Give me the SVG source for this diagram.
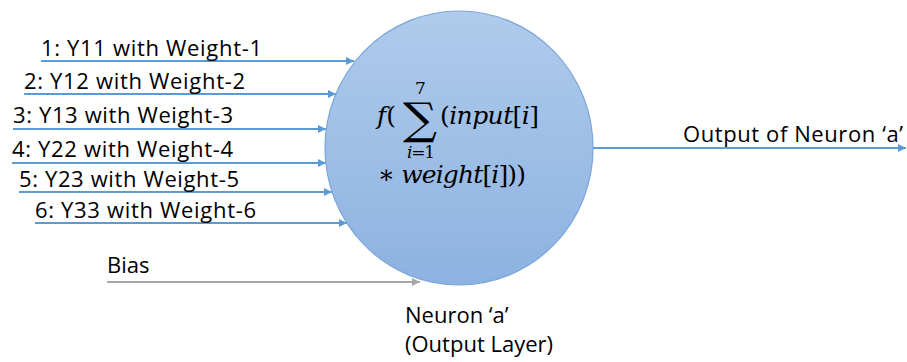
<svg xmlns="http://www.w3.org/2000/svg" width="907" height="362" viewBox="0 0 907 362">
  <defs>
    <linearGradient id="gFill" x1="0" y1="0" x2="0" y2="1">
      <stop offset="0" stop-color="#b0cbeb"/>
      <stop offset="1" stop-color="#8db2e1"/>
    </linearGradient>
    <marker id="arrB" viewBox="0 0 10 10" refX="10" refY="5" markerWidth="4.5" markerHeight="4" orient="auto" markerUnits="strokeWidth">
      <path d="M0,0 L10,5 L0,10 Z" fill="#5b9bd5"/>
    </marker>
    <marker id="arrG" viewBox="0 0 10 10" refX="10" refY="5" markerWidth="4.5" markerHeight="4" orient="auto" markerUnits="strokeWidth">
      <path d="M0,0 L10,5 L0,10 Z" fill="#a6a6a6"/>
    </marker>
  </defs>
  <style>
    .lbl { font-family: "Open Sans", "Liberation Sans", sans-serif; font-size: 22px; fill: #000; }
    .m { font-family: "DejaVu Serif", "Liberation Serif", serif; fill: #000; }
    .it { font-style: italic; }
    .inB { stroke: #5b9bd5; stroke-width: 2; fill: none; marker-end: url(#arrB); }
    .inG { stroke: #a6a6a6; stroke-width: 2; fill: none; marker-end: url(#arrG); }
  </style>

  <g id="connectors">
    <line class="inB" x1="41" y1="61" x2="354" y2="61"/>
    <line class="inB" x1="24" y1="94" x2="336" y2="94"/>
    <line class="inB" x1="13" y1="129" x2="326" y2="129"/>
    <line class="inB" x1="12" y1="163" x2="326" y2="163"/>
    <line class="inB" x1="19" y1="192" x2="332" y2="192"/>
    <line class="inB" x1="35" y1="223" x2="347" y2="223"/>
    <line class="inG" x1="107" y1="282" x2="420" y2="282"/>
    <line class="inB" x1="593" y1="148" x2="906" y2="148"/>
  </g>

  <g id="neuron">
    <ellipse cx="459" cy="148" rx="134" ry="137" fill="url(#gFill)" stroke="#7aa6da" stroke-width="1.2"/>
    <text class="m" x="377" y="124" font-size="25"><tspan class="it">f</tspan>(</text>
    <text class="m" x="403" y="134" font-size="44" textLength="34" lengthAdjust="spacingAndGlyphs">∑</text>
    <text class="m" x="415" y="94" font-size="17">7</text>
    <text class="m" x="407" y="158" font-size="17" textLength="28"><tspan class="it">i</tspan>=1</text>
    <text class="m" x="440" y="124" font-size="25" textLength="99">(<tspan class="it">input</tspan>[<tspan class="it">i</tspan>]</text>
    <text class="m" x="378" y="183" font-size="25" textLength="148">∗ <tspan class="it">weight</tspan>[<tspan class="it">i</tspan>]))</text>
  </g>

  <g id="input-labels">
    <text class="lbl" x="41" y="56" textLength="221">1: Y11 with Weight-1</text>
    <text class="lbl" x="24" y="89" textLength="221">2: Y12 with Weight-2</text>
    <text class="lbl" x="13" y="123" textLength="220">3: Y13 with Weight-3</text>
    <text class="lbl" x="12" y="157" textLength="221">4: Y22 with Weight-4</text>
    <text class="lbl" x="19" y="187" textLength="220">5: Y23 with Weight-5</text>
    <text class="lbl" x="35" y="218" textLength="221">6: Y33 with Weight-6</text>
    <text class="lbl" x="107" y="273">Bias</text>
  </g>

  <g id="output-label">
    <text class="lbl" x="683" y="142" textLength="220">Output of Neuron ‘a’</text>
  </g>

  <g id="neuron-caption">
    <text class="lbl" x="405" y="323">Neuron ‘a’</text>
    <text class="lbl" x="405" y="352">(Output Layer)</text>
  </g>
</svg>
